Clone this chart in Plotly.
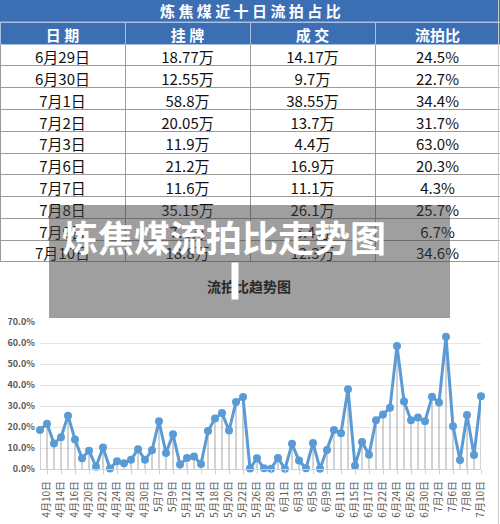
import plotly.graph_objects as go

W, H = 500, 524

# ---- table data (top) ----
tbl_dates = ["6月29日", "6月30日", "7月1日", "7月2日", "7月3日",
             "7月6日", "7月7日", "7月8日", "7月9日", "7月10日"]
tbl_listed = ["18.77万", "12.55万", "58.8万", "20.05万", "11.9万",
              "21.2万", "11.6万", "35.15万", "7.2万", "18.8万"]
tbl_dealt = ["14.17万", "9.7万", "38.55万", "13.7万", "4.4万",
             "16.9万", "11.1万", "26.1万", "6.4万", "12.3万"]
tbl_ratio = ["24.5%", "22.7%", "34.4%", "31.7%", "63.0%",
             "20.3%", "4.3%", "25.7%", "6.7%", "34.6%"]
tbl_header = ["日 期", "挂 牌", "成 交", "流拍比"]

# ---- line chart data ----
days = ["4月9日", "4月10日", "4月13日", "4月14日", "4月15日", "4月16日", "4月17日", "4月20日",
        "4月21日", "4月22日", "4月23日", "4月24日", "4月27日", "4月28日", "4月29日", "4月30日",
        "5月6日", "5月7日", "5月8日", "5月9日", "5月11日", "5月12日", "5月13日", "5月14日",
        "5月15日", "5月18日", "5月19日", "5月20日", "5月21日", "5月22日", "5月25日", "5月26日",
        "5月27日", "5月28日", "5月29日", "6月1日", "6月2日", "6月3日", "6月4日", "6月5日",
        "6月8日", "6月9日", "6月10日", "6月11日", "6月12日", "6月15日", "6月16日", "6月17日",
        "6月19日", "6月22日", "6月23日", "6月24日", "6月25日", "6月26日", "6月29日", "6月30日",
        "7月1日", "7月2日", "7月3日", "7月6日", "7月7日", "7月8日", "7月9日", "7月10日"]
ratio = [18.6, 21.6, 12.2, 15.1, 25.4, 14.0, 5.1, 8.7,
         1.1, 10.2, 0.2, 3.7, 2.7, 4.4, 9.4, 4.4,
         8.9, 22.7, 7.6, 16.5, 2.2, 5.2, 6.0, 2.4,
         18.1, 24.0, 26.7, 18.3, 31.9, 34.3, 0.2, 5.1,
         0.3, 0.1, 5.2, 0.1, 12.0, 4.0, 0.3, 12.4,
         0.1, 9.0, 18.6, 17.0, 38.0, 1.6, 12.9, 6.8,
         23.2, 25.9, 29.2, 58.6, 32.2, 23.2, 24.5, 22.7,
         34.4, 31.7, 63.0, 20.3, 4.3, 25.7, 6.7, 34.6]
yticks = [0, 10, 20, 30, 40, 50, 60, 70]


def py(p):
    return 1 - p / H


def px(p):
    return p / W


BLUE = "#3c6eb4"
FONT = "Noto Sans CJK SC"

fig = go.Figure()

fig.add_trace(go.Table(
    domain=dict(x=[0, 1], y=[py(264), py(22)]),
    columnwidth=[1, 1, 1, 1],
    header=dict(values=tbl_header, fill_color=BLUE, height=22,
                line=dict(color="#a9c0e0", width=1),
                font=dict(family=FONT, size=15, color="white", weight="bold"),
                align="center"),
    cells=dict(values=[tbl_dates, tbl_listed, tbl_dealt, tbl_ratio],
               fill_color="white", height=21.8,
               line=dict(color="#9a9a9a", width=1),
               font=dict(family=FONT, size=15, color="#111111"),
               align="center"),
))

# drop lines
fig.add_trace(go.Scatter(
    x=days, y=ratio, mode="markers",
    marker=dict(size=1, color="rgba(0,0,0,0)"),
    error_y=dict(type="data", symmetric=False, array=[0] * len(ratio),
                 arrayminus=ratio, color="#a6a6a6", thickness=1, width=0),
    hoverinfo="skip", showlegend=False, cliponaxis=False,
))
fig.add_trace(go.Scatter(
    x=days, y=ratio, mode="lines+markers",
    line=dict(color="#5b9bd5", width=3),
    marker=dict(size=8, color="#5b9bd5"),
    showlegend=False, cliponaxis=False,
))

fig.update_layout(
    width=W, height=H,
    margin=dict(l=0, r=0, t=0, b=0, pad=0),
    paper_bgcolor="white", plot_bgcolor="white",
    font=dict(family=FONT),
    xaxis=dict(
        domain=[px(40), px(481)], type="category", range=[0, len(days) - 1],
        tickvals=days[1::2], ticktext=days[1::2], tickangle=-90,
        tickfont=dict(size=10, color="#595959"),
        showgrid=False, showline=True, linecolor="#d0d0d0",
        ticks="outside", ticklen=4, tickcolor="#d0d0d0",
        ticklabelstandoff=3, automargin=False,
    ),
    yaxis=dict(
        domain=[py(469), py(322)], range=[0, 70],
        tickvals=yticks, ticktext=["%.1f%%" % v for v in yticks],
        tickfont=dict(size=9, color="#595959", weight="bold"),
        showgrid=True, gridcolor="#e4e4e4", zeroline=False,
        ticklabelstandoff=4, automargin=False,
    ),
)

shapes = [
    # title row of the table
    dict(type="rect", xref="paper", yref="paper", x0=0, x1=1, y0=py(22), y1=1,
         fillcolor=BLUE, line=dict(width=0), layer="above"),
    dict(type="line", xref="paper", yref="paper", x0=0, x1=1, y0=py(22), y1=py(22),
         line=dict(color="#a9c0e0", width=1), layer="above"),
    # right border of the picture
    dict(type="line", xref="paper", yref="paper", x0=px(498.5), x1=px(498.5), y0=0, y1=1,
         line=dict(color="#c8c8c8", width=1), layer="above"),
    # grey overlay box
    dict(type="rect", xref="paper", yref="paper", x0=px(49), x1=px(450), y0=py(318), y1=py(205),
         fillcolor="rgba(64,64,64,0.5)", line=dict(width=0), layer="above"),
]
fig.update_layout(shapes=shapes)

fig.add_annotation(x=0.5, y=py(11), xref="paper", yref="paper", showarrow=False,
                   yanchor="middle", text="炼 焦 煤 近 十 日 流 拍 占 比",
                   font=dict(family=FONT, size=15, color="white", weight="bold"))
fig.add_annotation(x=px(249), y=py(286), xref="paper", yref="paper", showarrow=False,
                   yanchor="middle", text="流拍比趋势图",
                   font=dict(family=FONT, size=14, color="#2a2a2a", weight="bold"))
fig.add_annotation(x=px(235), y=py(281), xref="paper", yref="paper", showarrow=False,
                   yanchor="middle", text=" ", width=6, height=36, bgcolor="white", borderpad=0)
fig.add_annotation(x=px(388), y=py(236), xref="paper", yref="paper", showarrow=False,
                   xanchor="right", yanchor="middle", text="炼焦煤流拍比走势图",
                   font=dict(family=FONT, size=36, color="white", weight="bold"))

fig.write_html("out.html", config={"displayModeBar": False},
               post_script="document.body.style.margin='0';")
